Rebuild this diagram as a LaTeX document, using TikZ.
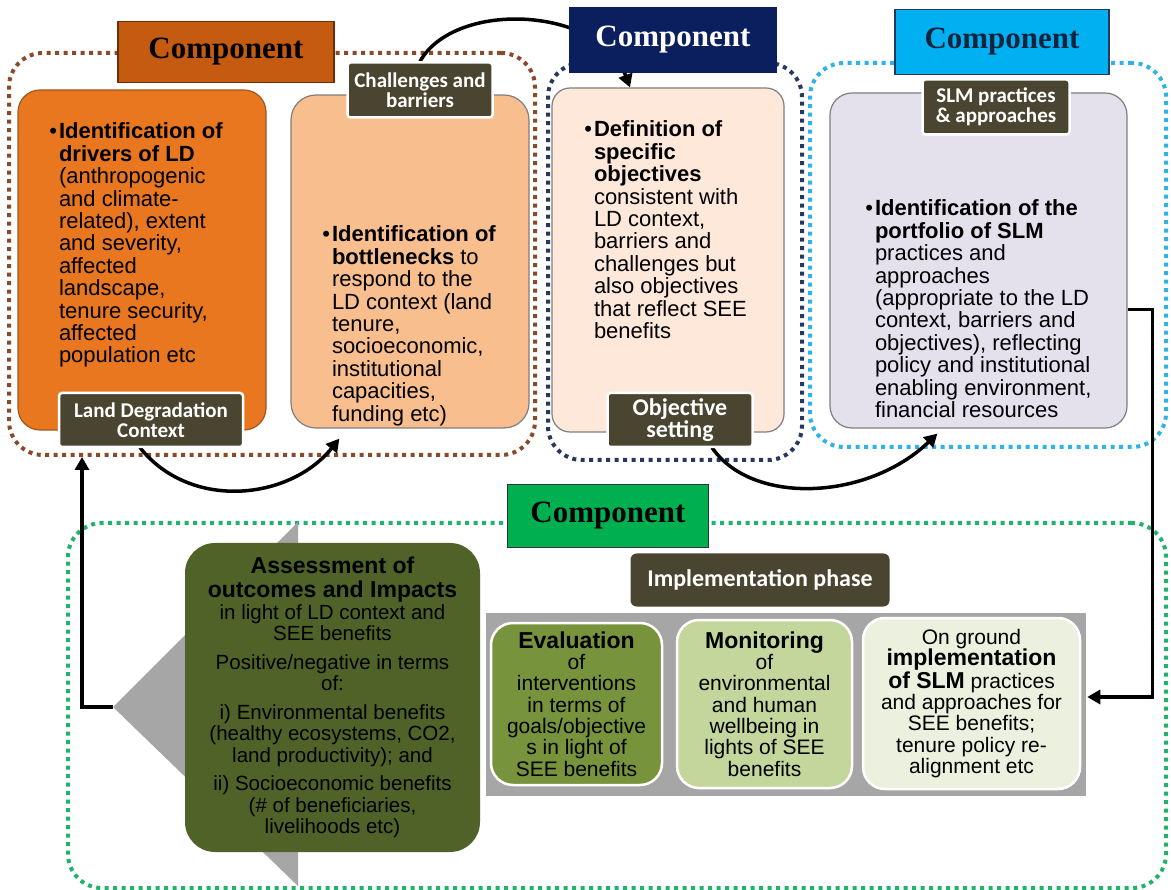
\documentclass[tikz,border=0pt]{standalone}
\usepackage{fontspec}
\setmainfont{Liberation Sans}
\newfontfamily\hdrfont{Liberation Serif}
\newfontfamily\tagfont{Carlito}
\usetikzlibrary{arrows.meta,positioning,calc}

\definecolor{brownhdr}{HTML}{C55A11}
\definecolor{brownline}{HTML}{6B2E08}
\definecolor{browndot}{HTML}{8A4A2A}
\definecolor{navyhdr}{HTML}{0B1F5E}
\definecolor{navydot}{HTML}{27385F}
\definecolor{cyanhdr}{HTML}{00B0F0}
\definecolor{cyantext}{HTML}{10243E}
\definecolor{cyandot}{HTML}{2DB3E6}
\definecolor{greenhdr}{HTML}{00B050}
\definecolor{greendot}{HTML}{1FB36B}
\definecolor{orangebox}{HTML}{E8771F}
\definecolor{orangeline}{HTML}{A0581E}
\definecolor{peachbox}{HTML}{F9BE8E}
\definecolor{creambox}{HTML}{FDE8DA}
\definecolor{lilacbox}{HTML}{E4E0EC}
\definecolor{cardline}{HTML}{7F7F7F}
\definecolor{tagfill}{HTML}{4A4530}
\definecolor{olivebox}{HTML}{4F6228}
\definecolor{evalbox}{HTML}{77933C}
\definecolor{monbox}{HTML}{C3D69B}
\definecolor{groundbox}{HTML}{EBF1DE}
\definecolor{bandgrey}{HTML}{A6A6A6}

% text block of a top card: width, height, left pad, top pad, text
\newcommand{\pad}[5]{\parbox[c][#2][t]{#1}{\vspace*{#4}\raggedright\leftskip=#3\relax #5}}
\newcommand{\bul}{\leavevmode\llap{\textbullet\hspace{2pt}}}

\begin{document}
\begin{tikzpicture}[
  x=1pt,y=-1pt,
  grp/.style={draw, line width=4pt, dash pattern=on 4pt off 4.5pt, rounded corners=34pt, inner sep=0pt},
  hdr/.style={font=\hdrfont\bfseries\fontsize{31}{31}\selectfont, inner sep=0pt, line width=1.2pt},
  card/.style={draw=cardline, line width=1.2pt, rounded corners=22pt, inner sep=0pt, font=\fontsize{22}{22.4}\selectfont},
  tag/.style={fill=tagfill, draw=white, line width=2.5pt, rounded corners=3pt, text=white, align=center, inner sep=0pt, font=\tagfont\bfseries\fontsize{21}{20}\selectfont},
  phase/.style={draw=white, line width=2.5pt, rounded corners=22pt, inner sep=0pt, font=\fontsize{21}{21.3}\selectfont},
  arr/.style={-{Triangle[length=13pt,width=14pt]}, line width=3.5pt}
]
\fill[white] (0,0) rectangle (1171,890);
\useasboundingbox (0,0) rectangle (1171,890);

% dotted component frames
\node[grp, draw=browndot, minimum width=526, minimum height=402] (grpA) at (272,254) {};
\node[grp, draw=navydot, minimum width=254, minimum height=397] (grpB) at (675,261.5) {};
\node[grp, draw=cyandot, minimum width=356, minimum height=384] (grpC) at (988,255) {};
\node[grp, draw=greendot, minimum width=1098, minimum height=365] (grpD) at (617,705.5) {};

% grey cycle arrow behind the lower part
\coordinate (tip) at (113,707);
\fill[bandgrey] (tip) -- (298,522) -- (298,886) -- cycle;
\node[fill=bandgrey, minimum width=600, minimum height=183, inner sep=0pt] (band) at (786,704.5) {};

% upper cards
\node[card, fill=orangebox, draw=orangeline] (drivers) at (142,260) {\pad{248pt}{340pt}{41pt}{33pt}{%
\bul\textbf{Identification of}\\
\textbf{drivers of LD}\\
(anthropogenic\\
and climate-\\
related), extent\\
and severity,\\
affected\\
landscape,\\
tenure security,\\
affected\\
population etc}};
\node[card, fill=peachbox, rounded corners=25pt] (bottle) at (410,261.5) {\pad{238pt}{333pt}{41pt}{131pt}{%
\bul\textbf{Identification of}\\
\textbf{bottlenecks} to\\
respond to the\\
LD context (land\\
tenure,\\
socioeconomic,\\
institutional\\
capacities,\\
funding etc)}};
\node[card, fill=creambox, rounded corners=18pt] (objs) at (668,260) {\pad{232pt}{344pt}{42pt}{33pt}{%
\bul\textbf{Definition of}\\
\textbf{specific}\\
\textbf{objectives}\\
consistent with\\
LD context,\\
barriers and\\
challenges but\\
also objectives\\
that reflect SEE\\
benefits}};
\node[card, fill=lilacbox] (slm) at (978.5,260.5) {\pad{297pt}{335pt}{45pt}{107pt}{%
\bul\textbf{Identification of the}\\
\textbf{portfolio of SLM}\\
practices and\\
approaches\\
(appropriate to the LD\\
context, barriers and\\
objectives), reflecting\\
policy and institutional\\
enabling environment,\\
financial resources}};

% lower cards
\node[fill=olivebox, rounded corners=30pt, minimum width=295, minimum height=309, inner sep=0pt] (assess) at (332.5,697.5) {\parbox{290pt}{\centering
{\fontsize{23}{24}\selectfont\bfseries Assessment of\\ outcomes and Impacts\par}
\fontsize{20.5}{21.5}\selectfont
in light of LD context and\\ SEE benefits\par\vspace{7pt}
Positive/negative in terms\\ of:\par\vspace{7pt}
i) Environmental benefits\\ (healthy ecosystems, CO2,\\ land productivity); and\par\vspace{7pt}
ii) Socioeconomic benefits\\ (\# of beneficiaries,\\ livelihoods etc)\par}};
\node[phase, fill=evalbox, minimum width=171, minimum height=162] (eval) at (576.5,704) {\parbox{165pt}{\centering
{\fontsize{23}{23}\selectfont\bfseries Evaluation\par}
of\\ interventions\\ in terms of\\ goals/objective\\ s in light of\\ SEE benefits\par}};
\node[phase, fill=monbox, minimum width=175, minimum height=168] (monit) at (764.5,704) {\parbox{170pt}{\centering
{\fontsize{23}{23}\selectfont\bfseries Monitoring\par}
of\\ environmental\\ and human\\ wellbeing in\\ lights of SEE\\ benefits\par}};
\node[phase, fill=groundbox, minimum width=217, minimum height=171] (ground) at (971.5,703.5) {\parbox{212pt}{\centering
On ground\\
{\fontsize{23}{21.3}\selectfont\bfseries implementation}\\
{\fontsize{23}{21.3}\selectfont\bfseries of SLM} practices\\
and approaches for\\ SEE benefits;\\ tenure policy re-\\ alignment etc\par}};

% connectors
\draw[arr] ([xshift=10pt,yshift=33pt]bottle.north) .. controls +(35,-62) and +(-30,-81) .. ([xshift=-38pt]objs.north);
\draw[arr] ([xshift=-2pt,yshift=-17pt]drivers.south) .. controls +(50,63) and +(-50,62) .. ([xshift=49pt,yshift=-10pt]bottle.south west);
\draw[arr] ([xshift=44pt,yshift=-15pt]objs.south) .. controls +(40,58) and +(-70,67) .. ([xshift=108pt,yshift=-5pt]slm.south west);
\draw[arr] ([yshift=-49pt]slm.east) -- ++(25,0) |- ([xshift=6pt,yshift=6.5pt]ground.east);
\draw[arr] (tip) -| ([xshift=75pt]grpA.south west);

% step labels
\node[tag, minimum width=184, minimum height=54] (ldc) at (151,420) {Land Degradation\\Context};
\node[tag, minimum width=145, minimum height=55] (cb) at (420,90) {Challenges and\\barriers};
\node[tag, minimum width=145, minimum height=54, font=\tagfont\bfseries\fontsize{24}{22}\selectfont] (objset) at (680,420) {Objective\\setting};
\node[tag, minimum width=147, minimum height=55] (slmtag) at (996,107) {SLM practices\\\& approaches};
\node[tag, draw=none, rounded corners=6pt, minimum width=259, minimum height=53, font=\tagfont\bfseries\fontsize{24}{22}\selectfont] (impl) at (760,580) {Implementation phase};

% component headers
\node[hdr, fill=brownhdr, draw=brownline, minimum width=216, minimum height=61] (cmpA) at (226,52) {Component};
\node[hdr, fill=navyhdr, draw=navyhdr, text=white, minimum width=206, minimum height=65] (cmpB) at (673,40) {Component};
\node[hdr, fill=cyanhdr, draw=navydot, text=cyantext, minimum width=214, minimum height=65] (cmpC) at (1002,42) {Component};
\node[hdr, fill=greenhdr, draw=black!80, minimum width=201, minimum height=63] (cmpD) at (608,516) {Component};
\end{tikzpicture}
\end{document}
